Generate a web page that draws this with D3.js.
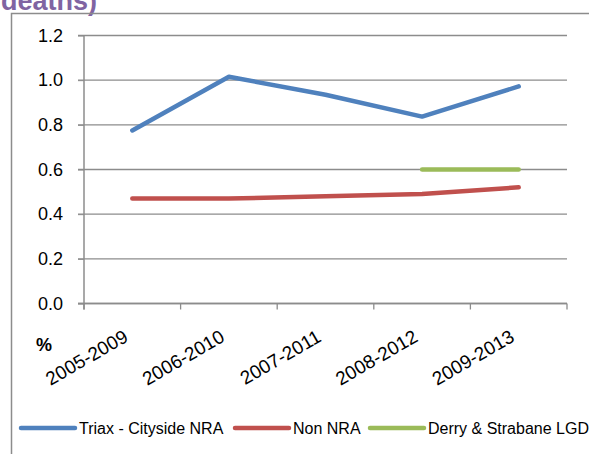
<!DOCTYPE html>
<html><head><meta charset="utf-8">
<script src="https://cdn.jsdelivr.net/npm/d3@7/dist/d3.min.js"></script>
<style>body{margin:0;background:#fff;} svg{display:block;}</style>
</head><body>
<svg id="c" width="589" height="454"></svg>
<script>
const categories = ["2005-2009","2006-2010","2007-2011","2008-2012","2009-2013"];
const triax = [0.775, 1.015, 0.935, 0.837, 0.972];
const nonNRA = [0.47, 0.47, 0.48, 0.49, 0.52];
const derry = [null, null, null, 0.60, 0.60];
const yTicks = [0, 0.2, 0.4, 0.6, 0.8, 1.0, 1.2];
const seriesNames = ["Triax - Cityside NRA", "Non NRA", "Derry & Strabane LGD"];
const colors = ["#4F81BD", "#C0504D", "#9BBB59"];

const svg = d3.select("#c");
const font = "Liberation Sans, Arial, sans-serif";

// title fragment (cut off at top, as in the source)
svg.append("text").attr("x", 1).attr("y", 10).attr("font-family", font)
  .attr("font-weight", "bold").attr("font-size", 27).attr("fill", "#8064A2").text("deaths)");

// outer frame
svg.append("rect").attr("x", 11.5).attr("y", 13.5).attr("width", 600).attr("height", 500)
  .attr("fill", "none").attr("stroke", "#8c8c8c").attr("stroke-width", 1.5);

const x = d3.scaleBand().domain(categories).range([84, 567]);
const y = d3.scaleLinear().domain([0, 1.2]).range([303.5, 35.5]);

const g = svg.append("g");
// gridlines
g.selectAll("line.grid").data(yTicks).join("line")
  .attr("x1", 78).attr("x2", 567).attr("y1", d => y(d)).attr("y2", d => y(d))
  .attr("stroke", "#8c8c8c").attr("stroke-width", 1.3);

// y axis
const yAxis = d3.axisLeft(y).tickValues(yTicks).tickFormat(d3.format(".1f")).tickSize(6).tickPadding(15);
const ya = svg.append("g").attr("transform", "translate(84,0)").call(yAxis);
ya.select(".domain").attr("stroke", "#8c8c8c").attr("stroke-width", 1.5)
  .attr("d", `M0,${y(1.2)}V${y(0)+6}`);
ya.selectAll(".tick line").attr("stroke", "#8c8c8c");
ya.selectAll("text").attr("font-family", font).attr("font-size", 18).attr("fill", "#000");

// x axis
const xa = svg.append("g").attr("transform", `translate(0,${y(0)})`);
const tickPos = categories.map(c => x(c)).concat([x.range()[1]]);
xa.append("line").attr("x1", 78).attr("x2", 567).attr("y1", 0).attr("y2", 0)
  .attr("stroke", "#8c8c8c").attr("stroke-width", 1.5);
xa.selectAll("line.t").data(tickPos).join("line").attr("class", "t")
  .attr("x1", d => d).attr("x2", d => d).attr("y1", 0).attr("y2", 6)
  .attr("stroke", "#8c8c8c").attr("stroke-width", 1.3);
xa.selectAll("text.lab").data(categories).join("text").attr("class", "lab")
  .attr("transform", d => `translate(${x(d) + x.bandwidth()/2 - 3},${37}) rotate(-30)`)
  .attr("text-anchor", "end").attr("font-family", font).attr("font-size", 19).text(d => d);

svg.append("text").attr("x", 36).attr("y", 351).attr("font-family", font)
  .attr("font-weight", "bold").attr("font-size", 18).text("%");

// lines
const cx = c => x(c) + x.bandwidth()/2;
const line = d3.line().defined(d => d.v != null).x(d => cx(d.c)).y(d => y(d.v));
[triax, nonNRA, derry].forEach((arr, i) => {
  const data = categories.map((c, j) => ({c, v: arr[j]}));
  svg.append("path").datum(data).attr("d", line).attr("fill", "none")
    .attr("stroke", colors[i]).attr("stroke-width", 4.5)
    .attr("stroke-linecap", "round").attr("stroke-linejoin", "round");
});

// legend
const legX = [21, 235, 370];
const lg = svg.append("g");
seriesNames.forEach((n, i) => {
  lg.append("line").attr("x1", legX[i]).attr("x2", legX[i] + 54).attr("y1", 428).attr("y2", 428)
    .attr("stroke", colors[i]).attr("stroke-width", 4.5).attr("stroke-linecap", "round");
  lg.append("text").attr("x", legX[i] + 58).attr("y", 434).attr("font-family", font)
    .attr("font-size", 16).text(n);
});
</script>
</body></html>
